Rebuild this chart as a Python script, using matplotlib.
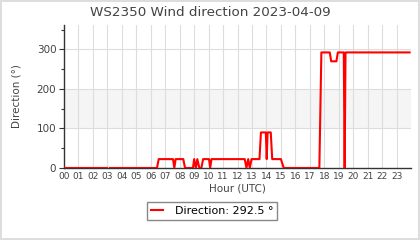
import numpy as np
import matplotlib
matplotlib.use('Agg')
import matplotlib.pyplot as plt
from matplotlib.ticker import FixedLocator


# wind direction readings, hour of day (UTC) vs degrees
hours = [0.0, 2.97, 3.0, 3.17, 6.43, 6.55, 7.54, 7.63, 7.72, 8.25, 8.37,
         8.92, 9.0, 9.12, 9.22, 9.36, 9.5, 9.62, 10.03, 10.11, 10.2,
         12.5, 12.62, 12.74, 12.85, 12.97, 13.52, 13.62, 13.96, 14.02,
         14.08, 14.3, 14.4, 15.0, 15.2, 17.66, 17.8, 18.38, 18.48, 18.84,
         18.94, 19.35, 19.41, 19.47, 23.9]
direction = [0, 0, np.nan, 0, 0, 22.5, 22.5, 0, 22.5, 22.5, 0,
             0, 22.5, 0, 22.5, 0, 0, 22.5, 22.5, 0, 22.5,
             22.5, 0, 22.5, 0, 22.5, 22.5, 90, 90, 22.5,
             90, 90, 22.5, 22.5, 0, 0, 292.5, 292.5, 270, 270,
             292.5, 292.5, 0, 292.5, 292.5]
hour_labels = ['%02d' % h for h in range(24)]
last_value = 292.5


def main():
    fig = plt.figure(figsize=(4.2, 2.4), dpi=100, edgecolor='#dddddd',
                     linewidth=1.5)
    ax = fig.add_axes([0.1524, 0.3, 0.8262, 0.596])

    # shaded band and grid
    ax.axhspan(100, 200, color='#f5f5f5', zorder=0, lw=0)
    for h in range(1, 25):
        ax.axvline(h, color='#dddddd', lw=0.8, zorder=1)
    for v in (100, 200, 300):
        ax.axhline(v, color='#dddddd', lw=0.8, zorder=1)

    ax.plot(hours, direction, color='#ff0000', lw=1.5, zorder=3,
            label='Direction: %.1f °' % last_value)

    ax.set_xlim(0, 24)
    ax.set_ylim(0, 362)
    ax.xaxis.set_major_locator(FixedLocator(range(24)))
    ax.set_xticklabels(hour_labels)
    ax.yaxis.set_major_locator(FixedLocator([0, 100, 200, 300]))
    ax.yaxis.set_minor_locator(FixedLocator([50, 150, 250, 350]))

    for s in ('top', 'right'):
        ax.spines[s].set_visible(False)
    for s in ('left', 'bottom'):
        ax.spines[s].set_color('#333333')
        ax.spines[s].set_linewidth(1.0)

    ax.tick_params(axis='x', length=0, pad=3, labelsize=6.5,
                   labelcolor='#444444')
    ax.tick_params(axis='y', which='major', length=3.5, width=0.8,
                   color='#333333', labelsize=7.5, labelcolor='#444444', pad=2)
    ax.tick_params(axis='y', which='minor', length=2.5, width=0.8,
                   color='#333333')

    ax.set_xlabel('Hour (UTC)', fontsize=7.5, color='#444444', labelpad=2)
    ax.set_ylabel('Direction (°)', fontsize=7.5, color='#444444', labelpad=11)
    fig.text(0.5, 0.948, 'WS2350 Wind direction 2023-04-09', ha='center',
             va='center', fontsize=9.7, color='#444444')

    leg = ax.legend(loc='upper center', bbox_to_anchor=(0.505, 0.16),
                    bbox_transform=fig.transFigure, fontsize=8,
                    fancybox=False, framealpha=1, edgecolor='#888888',
                    handlelength=1.1, handletextpad=1.0, borderpad=0.4,
                    borderaxespad=0)
    leg.get_frame().set_linewidth(1.0)

    fig.savefig('out.png', dpi=100)


if __name__ == "__main__":
    main()
